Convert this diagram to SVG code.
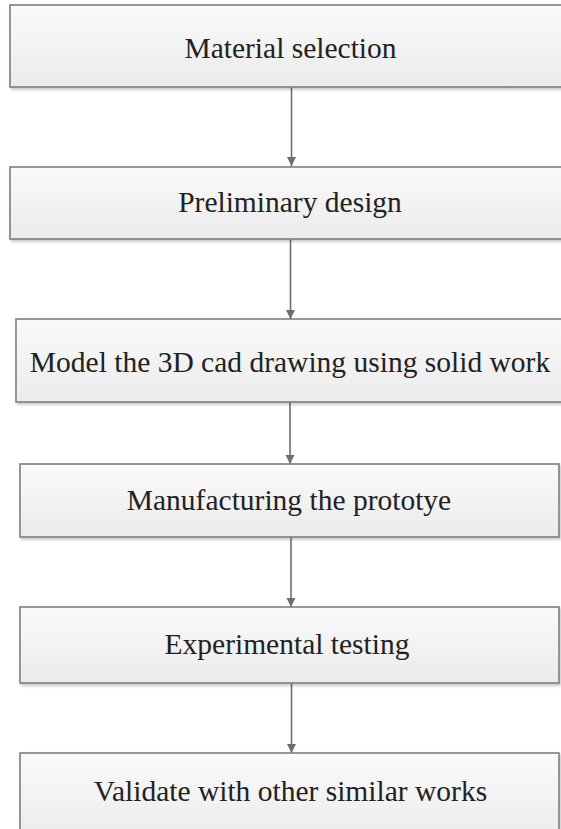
<svg xmlns="http://www.w3.org/2000/svg" width="561" height="829" viewBox="0 0 561 829">
  <defs>
    <linearGradient id="boxfill" x1="0" y1="0" x2="0" y2="1">
      <stop offset="0" stop-color="#fafafa"/>
      <stop offset="1" stop-color="#ebebeb"/>
    </linearGradient>
    <filter id="shadow" x="-5%" y="-10%" width="110%" height="130%">
      <feDropShadow dx="1.5" dy="2" stdDeviation="1.5" flood-color="#000" flood-opacity="0.22"/>
    </filter>
    <marker id="arrow" viewBox="0 0 10 10" refX="10" refY="5" markerWidth="9" markerHeight="10" markerUnits="userSpaceOnUse" orient="auto">
      <path d="M0,0 L10,5 L0,10 Z" fill="#6e6e6e"/>
    </marker>
  </defs>
  <style>
    .box { fill: url(#boxfill); stroke: #7f7f7f; stroke-width: 1.6; filter: url(#shadow); }
    .label { font-family: "Liberation Serif", "Times New Roman", serif; font-size: 29.5px; fill: #222222; text-anchor: middle; }
    .conn { stroke: #6e6e6e; stroke-width: 1.6; fill: none; marker-end: url(#arrow); }
  </style>
  <rect width="561" height="829" fill="#ffffff"/>

  <g id="connectors">
    <line class="conn" x1="291.5" y1="87" x2="291.5" y2="166"/>
    <line class="conn" x1="290.5" y1="239" x2="290.5" y2="319"/>
    <line class="conn" x1="290" y1="402" x2="290" y2="464"/>
    <line class="conn" x1="291" y1="537" x2="291" y2="607"/>
    <line class="conn" x1="291.5" y1="683" x2="291.5" y2="753"/>
  </g>

  <g id="node-material-selection">
    <rect class="box" x="10" y="5" width="562" height="82"/>
    <text class="label" x="290.5" y="57.5" font-family="'Liberation Serif', serif">Material selection</text>
  </g>
  <g id="node-preliminary-design">
    <rect class="box" x="10" y="167" width="562" height="72"/>
    <text class="label" x="290" y="212" font-family="'Liberation Serif', serif">Preliminary design</text>
  </g>
  <g id="node-model-3d">
    <rect class="box" x="16" y="319" width="556" height="83"/>
    <text class="label" x="290" y="372" font-family="'Liberation Serif', serif">Model the 3D cad drawing using solid work</text>
  </g>
  <g id="node-manufacturing">
    <rect class="box" x="20" y="464" width="539" height="73"/>
    <text class="label" x="289" y="510" font-family="'Liberation Serif', serif">Manufacturing the prototye</text>
  </g>
  <g id="node-experimental">
    <rect class="box" x="20" y="607" width="539" height="76"/>
    <text class="label" x="287" y="654" font-family="'Liberation Serif', serif">Experimental testing</text>
  </g>
  <g id="node-validate">
    <rect class="box" x="20" y="753" width="539" height="90"/>
    <text class="label" x="290.5" y="801" font-family="'Liberation Serif', serif">Validate with other similar works</text>
  </g>
</svg>
